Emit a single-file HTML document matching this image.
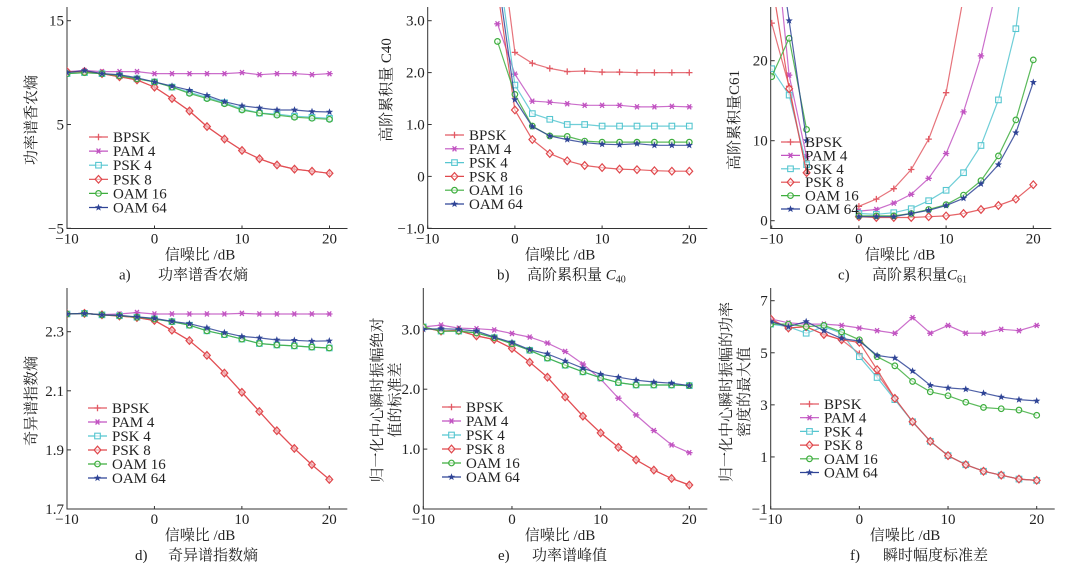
<!DOCTYPE html>
<html><head><meta charset="utf-8"><style>
html,body{margin:0;padding:0;background:#fff;}
svg{display:block;font-family:"Liberation Serif","Noto Serif CJK SC","Noto Sans CJK SC",serif;}
</style></head><body>
<svg id="fig" width="1080" height="572" viewBox="0 0 1080 572" xmlns="http://www.w3.org/2000/svg"></svg>
<script>
const snr=[-10,-8,-6,-4,-2,0,2,4,6,8,10,12,14,16,18,20];
const seriesNames=['BPSK','PAM 4','PSK 4','PSK 8','OAM 16','OAM 64'];
const xTicks=[-10,0,10,20];
const xTickLabels=['\u221210','0','10','20'];

// a) power spectrum Shannon entropy
const a_bpsk=[10.1,10.1,9.9,9.6,9.3,8.6,7.5,6.3,4.8,3.6,2.5,1.7,1.1,0.7,0.5,0.3];
const a_pam4=[10.1,10.2,10.1,10.1,10.1,9.9,9.9,9.9,9.9,9.9,10.0,9.8,9.9,9.9,9.8,9.9];
const a_psk4=[9.9,10.0,9.9,9.7,9.4,9.1,8.6,8.1,7.6,7.1,6.5,6.1,6.0,5.8,5.7,5.6];
const a_psk8=[10.1,10.1,9.9,9.6,9.3,8.6,7.5,6.3,4.8,3.6,2.5,1.7,1.1,0.7,0.5,0.3];
const a_oam16=[9.9,10.0,9.9,9.7,9.4,9.1,8.6,8.0,7.5,7.0,6.4,6.1,5.9,5.7,5.6,5.5];
const a_oam64=[10.0,10.2,9.9,9.8,9.5,9.1,8.7,8.3,7.8,7.2,6.8,6.6,6.4,6.4,6.25,6.2];
const a_yTicks=[-5,5,15];
const a_yTickLabels=['\u22125','5','15'];

// b) high-order cumulant C40
const b_bpsk=[null,null,null,null,5.0,2.39,2.18,2.08,2.02,2.03,2.01,2.01,2.0,2.0,2.0,2.0];
const b_pam4=[null,null,null,null,2.94,1.97,1.45,1.43,1.40,1.37,1.37,1.37,1.34,1.34,1.35,1.34];
const b_psk4=[null,null,null,null,4.2,1.76,1.21,1.10,1.0,1.0,0.97,0.97,0.97,0.97,0.97,0.97];
const b_psk8=[null,null,null,null,3.6,1.28,0.71,0.44,0.30,0.21,0.17,0.14,0.13,0.11,0.10,0.10];
const b_oam16=[null,null,null,null,2.6,1.58,0.97,0.78,0.77,0.68,0.66,0.66,0.66,0.66,0.66,0.66];
const b_oam64=[null,null,null,null,3.9,1.48,0.96,0.78,0.71,0.65,0.62,0.61,0.63,0.60,0.60,0.60];
const b_yTicks=[-1,0,1,2,3];
const b_yTickLabels=['\u22121.0','0','1.0','2.0','3.0'];

// c) high-order cumulant C61
const c_bpsk=[24.7,16.8,6.0,null,null,1.8,2.7,4.0,6.4,10.2,16.0,28,45,70,100,140];
const c_pam4=[40,18.2,8.0,null,null,1.2,1.4,2.2,3.3,5.3,8.4,13.6,20.6,30,45,65];
const c_psk4=[19,15.7,7.0,null,null,0.9,0.8,1.0,1.5,2.5,3.8,6.0,9.4,15.1,24.0,40];
const c_psk8=[30,16.5,6.0,null,null,0.5,0.4,0.4,0.4,0.5,0.6,0.9,1.4,1.9,2.7,4.5];
const c_oam16=[18.0,22.8,11.4,null,null,0.6,0.6,0.6,0.9,1.4,2.0,3.2,5.0,8.1,12.6,20.1];
const c_oam64=[40,25,10,null,null,0.5,0.5,0.5,0.9,1.3,1.9,2.8,4.6,7.0,11.0,17.3];
const c_yTicks=[0,10,20];
const c_yTickLabels=['0','10','20'];

// d) singular spectrum exponent entropy
const d_bpsk=[2.36,2.362,2.357,2.353,2.348,2.338,2.305,2.27,2.22,2.16,2.095,2.03,1.965,1.905,1.85,1.80];
const d_pam4=[2.36,2.362,2.358,2.36,2.365,2.36,2.36,2.36,2.36,2.36,2.362,2.36,2.36,2.36,2.36,2.36];
const d_psk4=[2.36,2.362,2.357,2.354,2.349,2.343,2.334,2.322,2.303,2.29,2.275,2.26,2.255,2.252,2.248,2.245];
const d_psk8=[2.36,2.362,2.357,2.353,2.348,2.338,2.305,2.27,2.22,2.16,2.095,2.03,1.965,1.905,1.85,1.80];
const d_oam16=[2.36,2.362,2.357,2.354,2.349,2.343,2.334,2.322,2.303,2.29,2.275,2.26,2.255,2.252,2.248,2.245];
const d_oam64=[2.36,2.362,2.357,2.355,2.35,2.345,2.335,2.327,2.313,2.297,2.284,2.279,2.272,2.271,2.268,2.269];
const d_yTicks=[1.7,1.9,2.1,2.3];
const d_yTickLabels=['1.7','1.9','2.1','2.3'];

// e) power spectrum peak
const e_bpsk=[3.03,2.97,2.98,2.89,2.83,2.68,2.45,2.20,1.87,1.55,1.27,1.03,0.82,0.65,0.51,0.40];
const e_pam4=[3.04,3.07,3.02,3.01,2.99,2.93,2.87,2.77,2.63,2.42,2.17,1.85,1.57,1.31,1.07,0.94];
const e_psk4=[3.04,2.97,2.97,2.94,2.86,2.76,2.65,2.52,2.40,2.29,2.19,2.11,2.07,2.07,2.07,2.06];
const e_psk8=[3.03,2.97,2.98,2.89,2.83,2.68,2.45,2.20,1.87,1.55,1.27,1.03,0.82,0.65,0.51,0.40];
const e_oam16=[3.04,2.97,2.97,2.94,2.86,2.76,2.65,2.52,2.40,2.29,2.19,2.11,2.07,2.07,2.07,2.06];
const e_oam64=[3.0,3.01,3.0,2.97,2.87,2.78,2.66,2.59,2.47,2.35,2.25,2.20,2.15,2.12,2.10,2.06];
const e_yTicks=[0,1,2,3];
const e_yTickLabels=['0','1.0','2.0','3.0'];

// f) instantaneous amplitude std
const f_bpsk=[6.25,5.95,6.0,5.7,5.5,4.97,4.2,3.25,2.35,1.6,1.05,0.7,0.45,0.3,0.15,0.1];
const f_pam4=[6.3,6.15,6.1,6.1,6.05,5.95,5.85,5.75,6.35,5.75,6.05,5.75,5.75,5.9,5.85,6.05];
const f_psk4=[6.1,6.0,5.75,6.0,5.75,4.85,4.05,3.2,2.35,1.6,1.05,0.7,0.45,0.3,0.15,0.1];
const f_psk8=[6.3,5.95,6.0,5.7,5.5,5.4,4.35,3.25,2.35,1.6,1.05,0.7,0.45,0.3,0.15,0.1];
const f_oam16=[6.1,6.1,6.0,6.05,5.8,5.5,4.85,4.5,3.9,3.5,3.35,3.1,2.9,2.85,2.8,2.6];
const f_oam64=[6.2,6.0,6.2,5.85,5.55,5.45,4.9,4.8,4.3,3.75,3.65,3.6,3.45,3.3,3.2,3.15];
const f_yTicks=[-1,1,3,5,7];
const f_yTickLabels=['\u22121','1','3','5','7'];

const NS='http://www.w3.org/2000/svg';
const svg=document.getElementById('fig');
const styles=[
 {c:'#e25a64',m:'plus'},{c:'#c255c2',m:'aster'},{c:'#56c6d0',m:'square'},
 {c:'#e0484c',m:'diamond'},{c:'#3eae3e',m:'circle'},{c:'#2f4496',m:'star'}];
const drawOrder=[1,0,2,3,4,5];

function el(tag,attrs,parent){const e=document.createElementNS(NS,tag);for(const k in attrs)e.setAttribute(k,attrs[k]);(parent||svg).appendChild(e);return e;}
function txt(s,x,y,size,anchor,parent,extra){const t=el('text',Object.assign({x:x,y:y,'font-size':size,'text-anchor':anchor||'start',fill:'#222'},extra||{}),parent);t.textContent=s;return t;}

function marker(g,type,x,y,c){
  const r=3.2;
  if(type==='plus'){el('path',{d:`M${x-r} ${y}H${x+r}M${x} ${y-r}V${y+r}`,stroke:c,'stroke-width':1.3,fill:'none'},g);}
  else if(type==='aster'){el('path',{d:`M${x-r} ${y}H${x+r}M${x-r*0.6} ${y-r*0.8}L${x+r*0.6} ${y+r*0.8}M${x+r*0.6} ${y-r*0.8}L${x-r*0.6} ${y+r*0.8}`,stroke:c,'stroke-width':1.3,fill:'none'},g);el('circle',{cx:x,cy:y,r:1.6,fill:c},g);}
  else if(type==='square'){el('rect',{x:x-2.8,y:y-2.8,width:5.6,height:5.6,fill:'#fff','fill-opacity':0.6,stroke:c,'stroke-width':1.1},g);}
  else if(type==='diamond'){el('path',{d:`M${x} ${y-3.8}L${x+3.4} ${y}L${x} ${y+3.8}L${x-3.4} ${y}Z`,fill:'#fff','fill-opacity':0.5,stroke:c,'stroke-width':1.2},g);}
  else if(type==='circle'){el('circle',{cx:x,cy:y,r:2.8,fill:'#fff','fill-opacity':0.5,stroke:c,'stroke-width':1.2},g);}
  else if(type==='star'){let d='';for(let i=0;i<10;i++){const rr=i%2?1.6:3.8;const a=-Math.PI/2+i*Math.PI/5;d+=(i?'L':'M')+(x+rr*Math.cos(a)).toFixed(2)+' '+(y+rr*Math.sin(a)).toFixed(2);}el('path',{d:d+'Z',fill:c},g);}
}

function panel(p){
  const g=el('g',{});
  
  
  const xs=v=>p.x0+(v+10)/30*(p.x1-p.x0);
  const ys=v=>p.yb+(v-p.vb)/(p.vt-p.vb)*(p.yt-p.yb);
  const axX=p.axX, axY=p.axY, axEnd=p.x1+18;
  const cid='clip-'+p.key;
  const defs=el('defs',{},g);
  const cp=el('clipPath',{id:cid},defs);
  el('rect',{x:axX,y:p.top,width:axEnd-axX,height:axY-p.top},cp);
  // axes
  const ax=el('path',{d:`M${axX} ${p.top}V${axY}H${axEnd}`,stroke:'#333','stroke-width':1,fill:'none'},g);
  
  
  p.yTicks.forEach((v,i)=>{const y=ys(v);el('line',{x1:axX,x2:axX+4,y1:y,y2:y,stroke:'#333','stroke-width':1},g);
    const t=txt(p.yLabels[i],axX-3,y+5,15,'end',g);
    
    });
  xTicks.forEach((v,i)=>{const x=xs(v);el('line',{x1:x,x2:x,y1:axY,y2:axY-3,stroke:'#333','stroke-width':1},g);
    const t=txt(xTickLabels[i],x,axY+15,15,'middle',g);
    
    });
  const xt=txt('信噪比 /dB',p.titleX,axY+31,15,'middle',g);
  
  
  // series
  const sg=el('g',{'clip-path':`url(#${cid})`},g);
  drawOrder.forEach(si=>{
    const vals=p.series[si], st=styles[si];
    let d='', pen=false;
    vals.forEach((v,i)=>{ if(v===null){pen=false;return;} d+=(pen?'L':'M')+xs(snr[i]).toFixed(1)+' '+ys(v).toFixed(1); pen=true;});
    const path=el('path',{d:d,stroke:st.c,'stroke-width':1.2,fill:'none','stroke-opacity':0.85},sg);
    
    
    vals.forEach((v,i)=>{ if(v!==null) marker(sg,st.m,xs(snr[i]),ys(v),st.c);});
  });
  // legend
  const lg=el('g',{},g);
  
  
  seriesNames.forEach((n,i)=>{
    const y=p.legY+i*p.legDy, st=styles[i];
    el('line',{x1:p.legX,x2:p.legX+19,y1:y,y2:y,stroke:st.c,'stroke-width':1.2},lg);
    marker(lg,st.m,p.legX+9.5,y,st.c);
    const t=txt(n,p.legX+24,y+5,15,'start',lg);
    
    
  });
  // y label
  p.yLab.forEach(l=>{
    const t=txt(l.s,l.x,l.y,15,'middle',g,{transform:`rotate(-90 ${l.x} ${l.y})`});
    
    
  });
  // caption
  const c1=txt(p.cap[0],p.capX,axY+51,15,'start',g);
  
  
  const c2=txt(p.cap[1],p.capX2,axY+51,15,'start',g);
  
  
  if(p.capSub){const ts=el('tspan',{'font-style':'italic'},c2);ts.textContent='C';const sub=el('tspan',{'font-size':10,dy:3},c2);sub.textContent=p.capSub;}
}

panel({key:'a',name:'panel-psd-entropy',x0:67,x1:329.5,axX:67,axY:228.5,top:7,yb:228.3,vb:-5,yt:20.7,vt:15,
 yTicks:a_yTicks,yLabels:a_yTickLabels,titleX:200,series:[a_bpsk,a_pam4,a_psk4,a_psk8,a_oam16,a_oam64],
 legX:89,legY:137,legDy:14.1,yLab:[{s:'功率谱香农熵',x:36,y:120}],cap:['a)','功率谱香农熵'],capX:119,capX2:158});
panel({key:'b',name:'panel-c40',x0:427.7,x1:689.3,axX:427.7,axY:228.5,top:7,yb:228.3,vb:-1,yt:20.7,vt:3,
 yTicks:b_yTicks,yLabels:b_yTickLabels,titleX:560,series:[b_bpsk,b_pam4,b_psk4,b_psk8,b_oam16,b_oam64],
 legX:445,legY:135,legDy:13.8,yLab:[{s:'高阶累积量 C40',x:391,y:90}],cap:['b)','高阶累积量 '],capX:497,capX2:527,capSub:'40'});
panel({key:'c',name:'panel-c61',x0:771.7,x1:1033.3,axX:770.7,axY:228.5,top:7,yb:220.7,vb:0,yt:60.7,vt:20,
 yTicks:c_yTicks,yLabels:c_yTickLabels,titleX:900,series:[c_bpsk,c_pam4,c_psk4,c_psk8,c_oam16,c_oam64],
 legX:781,legY:142,legDy:13.4,yLab:[{s:'高阶累积量C61',x:739,y:120}],cap:['c)','高阶累积量'],capX:838,capX2:872,capSub:'61'});
panel({key:'d',name:'panel-svd-entropy',x0:67,x1:329.3,axX:67,axY:509,top:288,yb:509,vb:1.7,yt:331.7,vt:2.3,
 yTicks:d_yTicks,yLabels:d_yTickLabels,titleX:200,series:[d_bpsk,d_pam4,d_psk4,d_psk8,d_oam16,d_oam64],
 legX:88,legY:408,legDy:14,yLab:[{s:'奇异谱指数熵',x:36,y:401}],cap:['d)','奇异谱指数熵'],capX:135,capX2:168});
panel({key:'e',name:'panel-psd-peak',x0:423.3,x1:689.3,axX:423.3,axY:509,top:288,yb:509,vb:0,yt:329.3,vt:3,
 yTicks:e_yTicks,yLabels:e_yTickLabels,titleX:560,series:[e_bpsk,e_pam4,e_psk4,e_psk8,e_oam16,e_oam64],
 legX:442,legY:407,legDy:14,yLab:[{s:'归一化中心瞬时振幅绝对',x:382,y:400},{s:'值的标准差',x:400,y:400}],cap:['e)','功率谱峰值'],capX:498,capX2:532});
panel({key:'f',name:'panel-amp-std',x0:770.7,x1:1036.7,axX:770.7,axY:509,top:288,yb:509,vb:-1,yt:300.7,vt:7,
 yTicks:f_yTicks,yLabels:f_yTickLabels,titleX:905,series:[f_bpsk,f_pam4,f_psk4,f_psk8,f_oam16,f_oam64],
 legX:800,legY:404,legDy:13.7,yLab:[{s:'归一化中心瞬时振幅的功率',x:731,y:392},{s:'密度的最大值',x:749,y:392}],cap:['f)','瞬时幅度标准差'],capX:850,capX2:883});
</script>
</body></html>
